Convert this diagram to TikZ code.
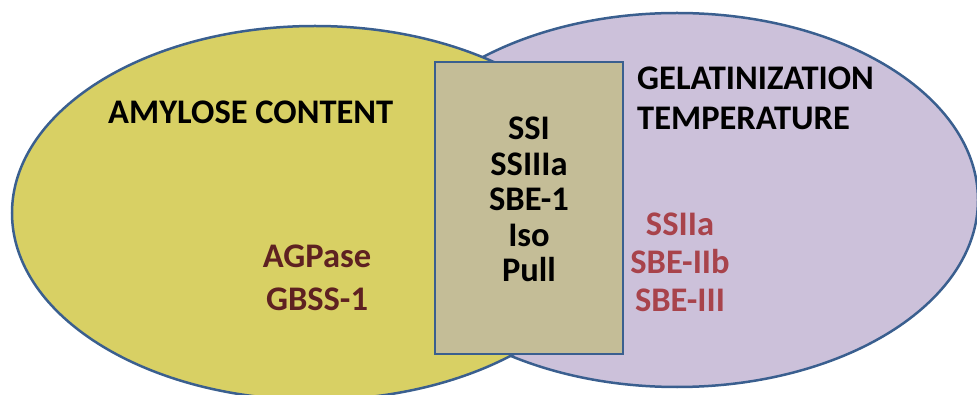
\documentclass[tikz,border=0pt]{standalone}
\usepackage{fontspec}
\setmainfont{Carlito}
\usetikzlibrary{shapes.geometric}
\definecolor{amyfill}{HTML}{D8D064}
\definecolor{gelfill}{HTML}{CCC1DA}
\definecolor{boxfill}{HTML}{C4BD97}
\definecolor{rim}{HTML}{3A5F8F}
\definecolor{darkgene}{HTML}{5E2121}
\definecolor{redgene}{HTML}{A8434B}
\tikzset{
  setshape/.style={ellipse, draw=rim, line width=2.5pt, inner sep=0pt},
  sharedbox/.style={rectangle, draw=rim, fill=boxfill, line width=2.5pt, inner sep=0pt},
  label/.style={font=\fontsize{34.5}{38}\selectfont\bfseries, inner sep=0pt},
  headline/.style={label, anchor=base west, text=black},
  boxline/.style={label, anchor=base, text=black},
  leftgene/.style={label, anchor=base, text=darkgene},
  rightgene/.style={label, anchor=base, text=redgene}
}
\begin{document}
\begin{tikzpicture}[x=1pt, y=-1pt]
  \useasboundingbox (0,0) rectangle (977,395);
  \clip (0,0) rectangle (977,395);

  % the two overlapping sets; the amylose set lies over the gelatinization set
  \node[setshape, fill=gelfill, minimum width=602pt, minimum height=374pt] (gelat) at (677,200) {};
  \node[setshape, fill=amyfill, minimum width=606pt, minimum height=374pt] (amylose) at (315,213) {};

  % genes shared by both traits
  \node[sharedbox, minimum width=188pt, minimum height=292pt] (shared) at (529,208) {};

  % set titles
  \node[headline] (amytitle) at (108,124) {AMYLOSE CONTENT};
  \node[headline] (geltitle1) at (637,90) {GELATINIZATION};
  \node[headline] (geltitle2) at (637,130) {TEMPERATURE};

  % shared genes
  \node[boxline] (ssi) at (529,140) {SSI};
  \node[boxline] (ssiiia) at (529,176) {SSIIIa};
  \node[boxline] (sbe1) at (529,211) {SBE-1};
  \node[boxline] (iso) at (529,247) {Iso};
  \node[boxline] (pull) at (529,282) {Pull};

  % amylose-only genes
  \node[leftgene] (agpase) at (317,268) {AGPase};
  \node[leftgene] (gbss) at (317,310) {GBSS-1};

  % gelatinization-only genes
  \node[rightgene] (ssiia) at (680,236) {SSIIa};
  \node[rightgene] (sbeiib) at (680,274) {SBE-IIb};
  \node[rightgene] (sbeiii) at (680,312) {SBE-III};
\end{tikzpicture}
\end{document}
